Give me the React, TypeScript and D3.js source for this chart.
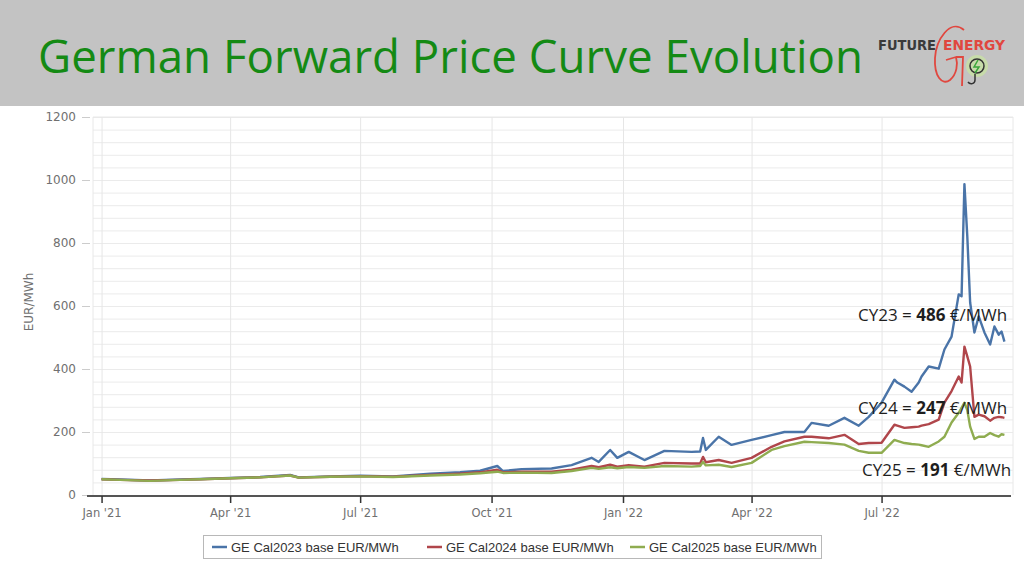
import { useEffect, useRef } from 'react';
import * as d3 from 'd3';

// values (EUR/MWh)
const dates = [
  '2021-01-01', '2021-01-14', '2021-02-04', '2021-02-25', '2021-03-11', '2021-04-01', '2021-04-22',
  '2021-05-13', '2021-05-19', '2021-06-10', '2021-07-01', '2021-07-24', '2021-08-19', '2021-09-09',
  '2021-09-23', '2021-10-05', '2021-10-09', '2021-10-22', '2021-11-12', '2021-11-26', '2021-12-10',
  '2021-12-15', '2021-12-23', '2021-12-28', '2022-01-05', '2022-01-16', '2022-01-30', '2022-02-18',
  '2022-02-24', '2022-02-26', '2022-02-28', '2022-03-09', '2022-03-18', '2022-04-01', '2022-04-15',
  '2022-04-24', '2022-05-08', '2022-05-13', '2022-05-25', '2022-06-05', '2022-06-15', '2022-06-22',
  '2022-07-01', '2022-07-10', '2022-07-12', '2022-07-17', '2022-07-22', '2022-07-27', '2022-07-29',
  '2022-08-03', '2022-08-10', '2022-08-14', '2022-08-19', '2022-08-24', '2022-08-26', '2022-08-28',
  '2022-08-30', '2022-09-01', '2022-09-04', '2022-09-07', '2022-09-11', '2022-09-15', '2022-09-18',
  '2022-09-21', '2022-09-23', '2022-09-25',
];

const cal2023 = [
  51, 49, 46, 49, 51, 54, 57,
  64, 56, 59, 61, 59, 68, 72,
  77, 92, 76, 82, 84, 95, 118,
  105, 143, 118, 137, 111, 140, 137,
  138, 181, 143, 185, 159, 175, 190,
  200, 200, 229, 220, 245, 220, 248,
  293, 366, 357, 344, 328, 357, 376,
  408, 401, 462, 503, 637, 631, 987,
  822, 611, 516, 567, 516, 478, 535,
  509, 519, 487,
];

const cal2024 = [
  50, 48, 46, 48, 50, 53, 56,
  62, 55, 58, 60, 58, 64, 68,
  72, 80, 72, 74, 74, 80, 92,
  88, 96, 90, 95, 90, 102, 100,
  100, 121, 104, 111, 102, 118, 153,
  170, 185, 185, 180, 191, 162, 165,
  166, 223, 220, 213, 215, 217, 220,
  225, 239, 293, 330, 376, 357, 471,
  440, 408, 248, 255, 250, 236, 245,
  248, 247, 245,
];

const cal2025 = [
  50, 48, 45, 48, 50, 53, 56,
  62, 55, 58, 59, 57, 62, 65,
  69, 74, 70, 71, 70, 76, 86,
  83, 88, 85, 89, 86, 92, 90,
  92, 105, 94, 96, 89, 102, 143,
  155, 169, 168, 165, 160, 140, 134,
  134, 175, 172, 165, 162, 160, 158,
  153, 170, 185, 230, 261, 277, 293,
  270, 217, 178, 185, 185, 197, 190,
  185, 193, 191,
];

const seriesNames = ['GE Cal2023 base EUR/MWh', 'GE Cal2024 base EUR/MWh', 'GE Cal2025 base EUR/MWh'];
const seriesColors = ['#4a74a8', '#b0464b', '#8fac50'];
const yTicks = [0, 200, 400, 600, 800, 1000, 1200];
const xTicks = ['2021-01-01', '2021-04-01', '2021-07-01', '2021-10-01', '2022-01-01', '2022-04-01', '2022-07-01'];
const annotations = [
  { label: 'CY23', value: 486 },
  { label: 'CY24', value: 247 },
  { label: 'CY25', value: 191 },
];

const App = () => {
  const ref = useRef<SVGSVGElement>(null);

  useEffect(() => {
    const svg = d3.select(ref.current);
    svg.selectAll('*').remove();

    const W = 1024;
    const H = 576;
    const parse = d3.timeParse('%Y-%m-%d');

    // header band
    svg.append('rect').attr('width', W).attr('height', H).attr('fill', '#ffffff');
    svg.append('rect').attr('width', W).attr('height', 106).attr('fill', '#c3c3c3');
    svg.append('text')
      .attr('x', 38)
      .attr('y', 73)
      .attr('textLength', 825)
      .attr('lengthAdjust', 'spacingAndGlyphs')
      .style('font-family', 'Open Sans, Noto Sans, sans-serif')
      .style('font-size', '46px')
      .style('fill', '#148a14')
      .text('German Forward Price Curve Evolution');

    // logo (rough)
    const logo = svg.append('g');
    logo.append('path')
      .attr('d', 'M964,30 C950,18 936,40 935,58 C934,76 942,86 950,80 C957,74 958,64 956,57 L946,60 M956,57 L963,57 L962,86')
      .attr('fill', 'none').attr('stroke', '#e0473f').attr('stroke-width', 1.8);
    logo.append('text')
      .attr('x', 878).attr('y', 50)
      .attr('textLength', 58).attr('lengthAdjust', 'spacingAndGlyphs')
      .style('font-family', 'DejaVu Sans Condensed, DejaVu Sans, sans-serif')
      .style('font-weight', 'bold').style('font-size', '14px').style('fill', '#3a3a3a')
      .text('FUTURE');
    logo.append('text')
      .attr('x', 943).attr('y', 50)
      .attr('textLength', 62).attr('lengthAdjust', 'spacingAndGlyphs')
      .style('font-family', 'DejaVu Sans Condensed, DejaVu Sans, sans-serif')
      .style('font-weight', 'bold').style('font-size', '14px').style('fill', '#e0473f')
      .text('ENERGY');
    logo.append('circle').attr('cx', 977).attr('cy', 66).attr('r', 11)
      .attr('fill', '#c9e6a0').attr('opacity', 0.7);
    logo.append('circle').attr('cx', 977).attr('cy', 66).attr('r', 7)
      .attr('fill', 'none').attr('stroke', '#333').attr('stroke-width', 1.5);
    logo.append('path').attr('d', 'M978,60 L974,67 L979,67 L975,73')
      .attr('fill', 'none').attr('stroke', '#3aa63a').attr('stroke-width', 1.5);
    logo.append('path').attr('d', 'M975,74 L975,80 C975,84 970,85 968,82')
      .attr('fill', 'none').attr('stroke', '#333').attr('stroke-width', 1.5);

    // scales
    const x = d3.scaleTime()
      .domain([parse('2020-12-26')!, parse('2022-10-01')!])
      .range([93, 1013]);
    const y = d3.scaleLinear().domain([0, 1200]).range([495, 117]);

    // horizontal gridlines every 40
    const g = svg.append('g');
    g.append('g')
      .attr('transform', 'translate(93,0)')
      .call(d3.axisLeft(y).tickValues(d3.range(40, 1201, 40)).tickSize(-(1013 - 93)).tickFormat(() => ''))
      .call(s => s.select('.domain').remove())
      .call(s => s.selectAll('.tick line').attr('stroke', '#ebebeb').attr('stroke-width', 1));

    // vertical gridlines
    g.append('g')
      .attr('transform', 'translate(0,495)')
      .call(d3.axisBottom(x).tickValues(xTicks.map(d => parse(d)!)).tickSize(-(495 - 117)).tickFormat(() => ''))
      .call(s => s.select('.domain').remove())
      .call(s => s.selectAll('.tick line').attr('stroke', '#e6e6e6'));

    // plot border left/right/top
    g.append('path')
      .attr('d', 'M93,495 V117 H1013 V495')
      .attr('fill', 'none').attr('stroke', '#e8e8e8');

    // y axis
    svg.append('g')
      .attr('transform', 'translate(90,0)')
      .call(d3.axisLeft(y).tickValues(yTicks).tickSize(8).tickPadding(6).tickFormat(d3.format('d')))
      .call(s => s.select('.domain').remove())
      .call(s => s.selectAll('.tick line').attr('stroke', '#cccccc'))
      .call(s => s.selectAll('text')
        .style('font-family', 'DejaVu Sans, sans-serif')
        .style('font-size', '12px')
        .style('fill', '#707070'));

    svg.append('text')
      .attr('transform', 'translate(33,302) rotate(-90)')
      .attr('text-anchor', 'middle')
      .style('font-family', 'DejaVu Sans, sans-serif')
      .style('font-size', '12px')
      .style('fill', '#707070')
      .text('EUR/MWh');

    // x axis
    svg.append('g')
      .attr('transform', 'translate(0,496)')
      .call(d3.axisBottom(x)
        .tickValues(xTicks.map(d => parse(d)!))
        .tickSize(7)
        .tickPadding(6)
        .tickFormat(d => d3.timeFormat("%b '%y")(d as Date)))
      .call(s => s.select('.domain')
        .attr('d', 'M87,0 H1011')
        .attr('stroke', '#555').attr('stroke-width', 2))
      .call(s => s.selectAll('.tick line').attr('stroke', '#333').attr('stroke-width', 1.5))
      .call(s => s.selectAll('text')
        .style('font-family', 'DejaVu Sans, sans-serif')
        .style('font-size', '11.5px')
        .style('fill', '#707070'));

    // lines
    const series = [cal2023, cal2024, cal2025];
    const line = d3.line<number>()
      .x((_, i) => x(parse(dates[i])!))
      .y(d => y(d));

    series.forEach((vals, i) => {
      svg.append('path')
        .datum(vals)
        .attr('d', line)
        .attr('fill', 'none')
        .attr('stroke', seriesColors[i])
        .attr('stroke-width', 2.4)
        .attr('stroke-linejoin', 'round');
    });

    // annotations
    const annY = [321, 414, 476];
    const annX = [858, 858, 862];
    annotations.forEach((a, i) => {
      const t = svg.append('text')
        .attr('x', annX[i]).attr('y', annY[i])
        .style('font-family', 'Open Sans, Noto Sans, sans-serif')
        .style('font-size', '17px')
        .style('fill', '#1e1e1e');
      t.append('tspan').text(`${a.label} = `);
      t.append('tspan').style('font-weight', 'bold').text(`${a.value}`);
      t.append('tspan').text(' €/MWh');
    });

    // legend
    const legend = svg.append('g');
    legend.append('rect')
      .attr('x', 203.5).attr('y', 535.5).attr('width', 618).attr('height', 23)
      .attr('fill', '#fff').attr('stroke', '#b8b8b8');
    const legendX = [212, 427, 630];
    seriesNames.forEach((name, i) => {
      legend.append('line')
        .attr('x1', legendX[i]).attr('x2', legendX[i] + 15)
        .attr('y1', 547).attr('y2', 547)
        .attr('stroke', seriesColors[i]).attr('stroke-width', 2.5);
      legend.append('text')
        .attr('x', legendX[i] + 19).attr('y', 551.5)
        .style('font-family', 'Liberation Sans, Arial, sans-serif')
        .style('font-size', '13px')
        .style('fill', '#333')
        .text(name);
    });
  }, []);

  return (
    <svg
      ref={ref}
      width={1024}
      height={576}
      style={{ position: 'absolute', left: 0, top: 0, display: 'block' }}
    />
  );
};

export default App;
